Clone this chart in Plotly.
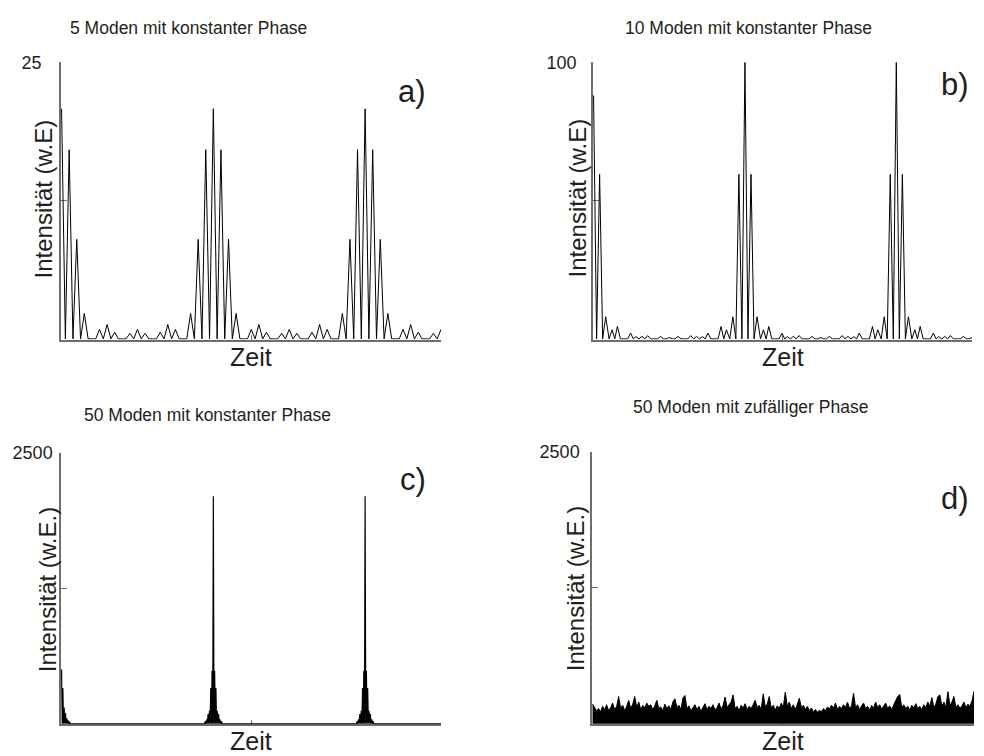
import plotly.graph_objects as go

# ---------------- data ----------------
# Panel a: 5 modes, constant phase (spike times in arbitrary time units 0..100)
zeit_a = [0, 2, 4, 6, 8, 10, 12, 14, 16, 18, 20, 22, 24, 26, 28, 30, 32, 34, 36, 38,
          40, 42, 44, 46, 48, 50, 52, 54, 56, 58, 60, 62, 64, 66, 68, 70, 72, 74, 76, 78,
          80, 82, 84, 86, 88, 90, 92, 94, 96, 98, 100]
intens_a = [20.8, 17.1, 9.0, 2.3, 0, 0.86, 1.3, 0.6, 0, 0.5, 0.86, 0.5, 0, 0.6, 1.3, 0.86, 0, 2.3, 9.0, 17.1,
            20.8, 17.1, 9.0, 2.3, 0, 0.86, 1.3, 0.6, 0, 0.5, 0.86, 0.5, 0, 0.6, 1.3, 0.86, 0, 2.3, 9.0, 17.1,
            20.8, 17.1, 9.0, 2.3, 0, 0.86, 1.3, 0.6, 0, 0.5, 0.86]

# Panel b: 10 modes, constant phase
zeit_b = [0, 1.6, 3.2, 4.9, 6.3, 9.8, 11.2, 12.8, 14.3, 17.7, 20.0, 22.3, 25.7, 27.2, 28.8, 30.2, 33.7, 35.1, 36.8, 38.4,
          40.0, 41.6, 43.2, 44.9, 46.3, 49.8, 51.2, 52.8, 54.3, 57.7, 60.0, 62.3, 65.7, 67.2, 68.8, 70.2, 73.7, 75.1, 76.8, 78.4,
          80.0, 81.6, 83.2, 84.9, 86.3, 89.8, 91.2, 92.8, 94.3, 97.7, 100.0]
intens_b = [88, 59.5, 8, 3.3, 4.5, 2.1, 0.8, 0.9, 1.2, 0.9, 0.5, 0.9, 1.2, 0.9, 0.8, 2.1, 4.5, 3.3, 8, 59.5,
            100, 59.5, 8, 3.3, 4.5, 2.1, 0.8, 0.9, 1.2, 0.9, 0.5, 0.9, 1.2, 0.9, 0.8, 2.1, 4.5, 3.3, 8, 59.5,
            100, 59.5, 8, 3.3, 4.5, 2.1, 0.8, 0.9, 1.2, 0.9, 0.5]

# Panel c: 50 modes, constant phase
zeit_c = [0, 0.34, 0.68, 1.03, 1.39, 1.74, 2.1,
          37.9, 38.26, 38.61, 38.97, 39.32, 39.66, 40, 40.34, 40.68, 41.03, 41.39, 41.74, 42.1,
          77.9, 78.26, 78.61, 78.97, 79.32, 79.66, 80, 80.34, 80.68, 81.03, 81.39, 81.74, 82.1]
intens_c = [500, 330, 150, 100, 50, 30, 20,
            25, 40, 90, 120, 330, 490, 2100, 490, 330, 120, 90, 40, 25,
            25, 40, 90, 120, 330, 490, 2100, 490, 330, 120, 90, 40, 25]

# Panel d: 50 modes, random phase (top edge of the noise band, evenly sampled over the time axis)
intens_d = [180, 150, 120, 140, 110, 160, 130, 175, 120, 150, 190, 130, 160, 250, 140, 170, 120, 160, 215, 140,
            180, 250, 150, 200, 130, 170, 145, 190, 160, 175, 130, 165, 215, 140, 155, 120, 180, 140, 165, 130,
            200, 230, 150, 170, 130, 235, 260, 140, 165, 120, 150, 175, 130, 160, 115, 145, 185, 130, 160, 140,
            175, 125, 150, 190, 135, 165, 245, 150, 175, 200, 265, 140, 160, 120, 170, 145, 185, 130, 160, 140,
            175, 215, 150, 170, 130, 275, 160, 180, 250, 145, 170, 125, 165, 140, 190, 150, 290, 160, 200, 140,
            175, 130, 180, 235, 150, 170, 130, 160, 120, 145, 110, 130, 105, 125, 110, 140, 120, 155, 135, 170,
            145, 190, 130, 160, 140, 175, 150, 200, 140, 165, 280, 150, 175, 130, 165, 190, 140, 160, 125, 170,
            145, 200, 150, 175, 135, 160, 190, 140, 165, 130, 180, 215, 250, 270, 150, 175, 140, 160, 125, 170,
            145, 185, 140, 160, 130, 175, 150, 200, 160, 240, 150, 180, 250, 265, 160, 200, 150, 295, 170, 200,
            250, 150, 175, 140, 165, 200, 145, 180, 160, 210, 300]
zeit_d = [i * 100.0 / (len(intens_d) - 1) for i in range(len(intens_d))]

titles = ["5 Moden mit konstanter Phase", "10 Moden mit konstanter Phase",
          "50 Moden mit konstanter Phase", "50 Moden mit zufälliger Phase"]
ylabels = ["Intensität (w.E)", "Intensität (w.E)", "Intensität (w.E.)", "Intensität (w.E.)"]
panel_tags = ["a)", "b)", "c)", "d)"]
ymax = [25, 100, 2500, 2500]
ytick_text = ["25", "100", "2500", "2500"]


def spikes_to_line(ts, hs, w, lo=0.0, hi=100.0):
    xs, ys = [], []
    for i, (t, h) in enumerate(zip(ts, hs)):
        if i == 0:
            if t - w > lo:
                xs += [lo, t - w]
                ys += [0, 0]
        else:
            prev = ts[i - 1]
            if t - prev <= 2 * w + 1e-9:
                xs.append((t + prev) / 2)
                ys.append(0)
            else:
                xs += [prev + w, t - w]
                ys += [0, 0]
        xs.append(t)
        ys.append(h)
    if ts[-1] + w < hi:
        xs += [ts[-1] + w, hi]
        ys += [0, 0]
    return xs, ys


W, H = 984, 756
# plot-area pixel boxes: (x0, x1, ytop, ybottom)
boxes = [(61, 441, 53, 334), (593, 972, 53, 334), (61, 441, 449, 724), (592, 974, 448, 724)]

FONT = "Liberation Sans, Arial, Helvetica, sans-serif"
TXT = "#231f20"
AX = "#6e6e6e"

fig = go.Figure()

xa, ya = spikes_to_line(zeit_a, intens_a, 1.0)
xb, yb = spikes_to_line(zeit_b, intens_b, 0.8)
xc, yc = spikes_to_line(zeit_c, intens_c, 0.17)

fig.add_trace(go.Scatter(x=xa, y=ya, mode="lines", line=dict(color="black", width=1), xaxis="x", yaxis="y"))
fig.add_trace(go.Scatter(x=xb, y=yb, mode="lines", line=dict(color="black", width=1), xaxis="x2", yaxis="y2"))
fig.add_trace(go.Scatter(x=xc, y=yc, mode="lines", line=dict(color="black", width=1.2), xaxis="x3", yaxis="y3"))
fig.add_trace(go.Scatter(x=zeit_d, y=intens_d, mode="lines", line=dict(color="black", width=1),
                         fill="tozeroy", fillcolor="black", xaxis="x4", yaxis="y4"))

layout = dict(
    width=W, height=H,
    margin=dict(l=0, r=0, t=0, b=0),
    paper_bgcolor="white", plot_bgcolor="white",
    showlegend=False,
    font=dict(family=FONT, color=TXT),
)

standoffs = [14, 11, 3, 7]
annotations = []
for i, (x0, x1, yt, yb_) in enumerate(boxes):
    sfx = "" if i == 0 else str(i + 1)
    layout["xaxis" + sfx] = dict(
        domain=[x0 / W, x1 / W], anchor="y" + sfx, range=[-0.15, 100],
        showgrid=False, zeroline=False, showline=True, linecolor=AX, linewidth=1.5,
        ticks="inside", ticklen=5, tickwidth=1.2, tickcolor=AX,
        tickvals=[50], ticktext=[""], layer="below traces", fixedrange=True,
    )
    layout["yaxis" + sfx] = dict(
        domain=[1 - yb_ / H, 1 - yt / H], anchor="x" + sfx, range=[-0.0025 * ymax[i], ymax[i]],
        showgrid=False, zeroline=False, showline=True, linecolor=AX, linewidth=1.5,
        ticks="inside", ticklen=6, tickwidth=1.2, tickcolor=AX,
        tickvals=[ymax[i] / 2, ymax[i]], ticktext=["", ytick_text[i]],
        tickfont=dict(size=18, color=TXT, family=FONT), ticklabelstandoff=standoffs[i],
        layer="below traces", fixedrange=True,
    )

title_pos = [(188, 18), (748, 18), (207, 410), (750, 402)]
tag_pos = [(412, 83), (955, 75), (413, 476), (955, 495)]
ylab_pos = [(43, 192), (577, 191), (47, 588), (575, 587)]
zeit_pos = [(251, 352), (783, 352), (251, 741), (783, 741)]

for i in range(4):
    tx, ty = title_pos[i]
    annotations.append(dict(text=titles[i], x=tx / W, y=1 - ty / H, xref="paper", yref="paper",
                            showarrow=False, xanchor="center", yanchor="middle",
                            font=dict(size=17.5, color=TXT, family=FONT)))
    px, py = tag_pos[i]
    annotations.append(dict(text=panel_tags[i], x=px / W, y=1 - py / H, xref="paper", yref="paper",
                            showarrow=False, xanchor="center", yanchor="middle",
                            font=dict(size=31, color=TXT, family=FONT)))
    lx, ly = ylab_pos[i]
    annotations.append(dict(text=ylabels[i], x=lx / W, y=1 - ly / H, xref="paper", yref="paper",
                            showarrow=False, xanchor="center", yanchor="middle", textangle=-90,
                            font=dict(size=24, color=TXT, family=FONT)))
    zx, zy = zeit_pos[i]
    annotations.append(dict(text="Zeit", x=zx / W, y=1 - zy / H, xref="paper", yref="paper",
                            showarrow=False, xanchor="center", yanchor="middle",
                            font=dict(size=25, color=TXT, family=FONT)))

layout["annotations"] = annotations
fig.update_layout(**layout)

fig.write_html("out.html")
